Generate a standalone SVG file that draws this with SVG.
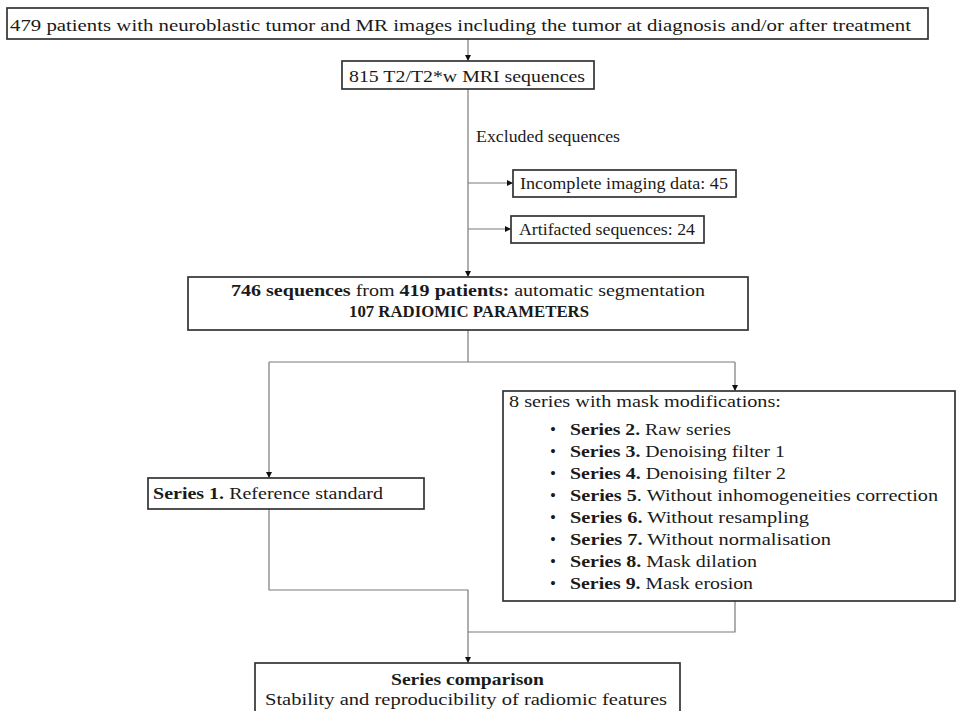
<svg xmlns="http://www.w3.org/2000/svg" width="956" height="711" viewBox="0 0 956 711">
<defs>
<marker id="arr" markerUnits="userSpaceOnUse" markerWidth="7" markerHeight="6" refX="6" refY="3" orient="auto">
<path d="M0,0 L6,3 L0,6 z" fill="#111"/>
</marker>
<style>
.box{fill:#fff;stroke:#333;stroke-width:1.7}
.c{fill:none;stroke:#7a7a7a;stroke-width:1.2}
text{font-family:"Liberation Serif","DejaVu Serif",serif;font-size:17px;fill:#1a1a1a}
.b{font-weight:bold}
.m{text-anchor:middle}
</style>
</defs>
<rect width="956" height="711" fill="#fff"/>
<g id="connectors">
<path class="c" d="M468,39 V61" marker-end="url(#arr)"/>
<path class="c" d="M468,89 V277" marker-end="url(#arr)"/>
<path class="c" d="M468,183 H513" marker-end="url(#arr)"/>
<path class="c" d="M468,229 H511" marker-end="url(#arr)"/>
<path class="c" d="M468,330 V362"/>
<path class="c" d="M269,362 H735"/>
<path class="c" d="M269,362 V478" marker-end="url(#arr)"/>
<path class="c" d="M735,362 V391" marker-end="url(#arr)"/>
<path class="c" d="M269,509 V590 H468 V663" marker-end="url(#arr)"/>
<path class="c" d="M735,601 V632 H468"/>
</g>
<g id="n1">
<rect class="box" x="7" y="8" width="921" height="31"/>
<text x="10" y="31" textLength="901" lengthAdjust="spacingAndGlyphs">479 patients with neuroblastic tumor and MR images including the tumor at diagnosis and/or after treatment</text>
</g>
<g id="n2">
<rect class="box" x="342" y="61" width="252" height="28"/>
<text x="349" y="82" textLength="236" lengthAdjust="spacingAndGlyphs">815 T2/T2*w MRI sequences</text>
</g>
<g id="excluded-label">
<text x="476" y="142" textLength="144" lengthAdjust="spacingAndGlyphs">Excluded sequences</text>
</g>
<g id="n3">
<rect class="box" x="513" y="170" width="223" height="27"/>
<text x="520" y="189" textLength="208" lengthAdjust="spacingAndGlyphs">Incomplete imaging data: 45</text>
</g>
<g id="n4">
<rect class="box" x="511" y="216" width="193" height="27"/>
<text x="519" y="235" textLength="176" lengthAdjust="spacingAndGlyphs">Artifacted sequences: 24</text>
</g>
<g id="n5">
<rect class="box" x="188" y="277" width="560" height="53"/>
<text x="231" y="296" textLength="474" lengthAdjust="spacingAndGlyphs"><tspan class="b">746 sequences</tspan> from <tspan class="b">419 patients:</tspan> automatic segmentation</text>
<text class="b" x="349" y="317" textLength="240" lengthAdjust="spacingAndGlyphs">107 RADIOMIC PARAMETERS</text>
</g>
<g id="n6">
<rect class="box" x="148" y="478" width="276" height="31"/>
<text x="153" y="499" textLength="230" lengthAdjust="spacingAndGlyphs"><tspan class="b">Series 1.</tspan> Reference standard</text>
</g>
<g id="n7">
<rect class="box" x="503" y="391" width="452" height="210"/>
<text x="509" y="407" textLength="272" lengthAdjust="spacingAndGlyphs">8 series with mask modifications:</text>
<g class="m">
<text x="553" y="435">•</text>
<text x="553" y="457">•</text>
<text x="553" y="479">•</text>
<text x="553" y="501">•</text>
<text x="553" y="523">•</text>
<text x="553" y="545">•</text>
<text x="553" y="567">•</text>
<text x="553" y="589">•</text>
</g>
<text x="570" y="435" textLength="161" lengthAdjust="spacingAndGlyphs"><tspan class="b">Series 2.</tspan> Raw series</text>
<text x="570" y="457" textLength="215" lengthAdjust="spacingAndGlyphs"><tspan class="b">Series 3.</tspan> Denoising filter 1</text>
<text x="570" y="479" textLength="216" lengthAdjust="spacingAndGlyphs"><tspan class="b">Series 4.</tspan> Denoising filter 2</text>
<text x="570" y="501" textLength="368" lengthAdjust="spacingAndGlyphs"><tspan class="b">Series 5</tspan>. Without inhomogeneities correction</text>
<text x="570" y="523" textLength="239" lengthAdjust="spacingAndGlyphs"><tspan class="b">Series 6.</tspan> Without resampling</text>
<text x="570" y="545" textLength="261" lengthAdjust="spacingAndGlyphs"><tspan class="b">Series 7.</tspan> Without normalisation</text>
<text x="570" y="567" textLength="187" lengthAdjust="spacingAndGlyphs"><tspan class="b">Series 8.</tspan> Mask dilation</text>
<text x="570" y="589" textLength="183" lengthAdjust="spacingAndGlyphs"><tspan class="b">Series 9.</tspan> Mask erosion</text>
</g>
<g id="n8">
<rect class="box" x="255" y="663" width="425" height="60"/>
<text class="b m" x="467.5" y="685" textLength="153" lengthAdjust="spacingAndGlyphs">Series comparison</text>
<text class="m" x="466" y="705" textLength="402" lengthAdjust="spacingAndGlyphs">Stability and reproducibility of radiomic features</text>
</g>
</svg>
